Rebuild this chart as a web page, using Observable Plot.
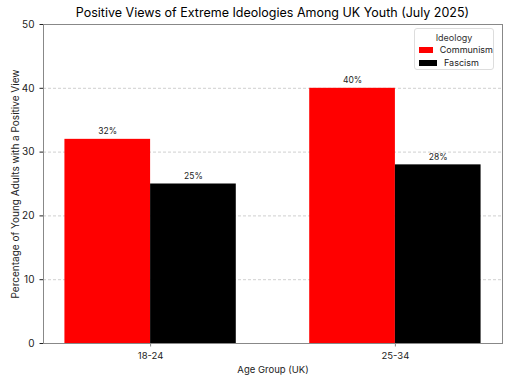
<!DOCTYPE html>
<html>
<head>
<meta charset="utf-8">
<script src="https://cdn.jsdelivr.net/npm/d3@7"></script>
<script src="https://cdn.jsdelivr.net/npm/@observablehq/plot@0.6"></script>
<style>
  html, body { margin: 0; padding: 0; background: #fff; }
  #wrap { position: relative; width: 512px; height: 384px; font-family: "Inter", "Lato", sans-serif; }
  #title { position: absolute; top: 5px; left: 43px; width: 459px; text-align: center; font-size: 12.5px; color: #000; }
  #legend { position: absolute; left: 414px; top: 28px; width: 80px; height: 42px; border: 1px solid #ddd; border-radius: 3px; background: #fff; font-size: 9px; color: #222; box-sizing: border-box; }
  #legend .t { text-align: center; margin-top: 3px; color: #333; }
  #legend .row { display: flex; align-items: center; height: 13px; margin-left: 4px; }
  #legend .sw { width: 18px; height: 6px; margin-right: 7px; }
</style>
</head>
<body>
<div id="wrap">
  <div id="chart"></div>
  <div id="title"></div>
  <div id="legend"></div>
</div>
<script>
const title = "Positive Views of Extreme Ideologies Among UK Youth (July 2025)";
const ageGroups = ["18-24", "25-34"];
const ideologies = ["Communism", "Fascism"];
const communism = [32, 40];
const fascism = [25, 28];
const colors = ["#ff0000", "#000000"];
const yTicks = [0, 10, 20, 30, 40, 50];
const yLabel = "Percentage of Young Adults with a Positive View";
const xLabel = "Age Group (UK)";
const legendTitle = "Ideology";

const barWidth = 0.35;
const series = [communism, fascism];
const rows = [];
ageGroups.forEach((g, i) => {
  ideologies.forEach((ide, k) => {
    const x1 = i + (k - 1) * barWidth;
    rows.push({group: g, ideology: ide, value: series[k][i], x1, x2: x1 + barWidth, xc: x1 + barWidth / 2});
  });
});

const font = "Inter, Lato, sans-serif";
const chart = Plot.plot({
  width: 512,
  height: 384,
  marginTop: 24,
  marginLeft: 43,
  marginRight: 10,
  marginBottom: 41,
  style: {fontFamily: font, fontSize: "10px", color: "#222", background: "#fff"},
  x: {domain: [-0.4375, 1.4375]},
  y: {domain: [0, 50]},
  color: {domain: ideologies, range: colors},
  marks: [
    Plot.gridY(yTicks.slice(1, -1), {stroke: "#bbb", strokeOpacity: 1, strokeDasharray: "3,2", strokeWidth: 0.7}),
    Plot.rectY(rows, {x1: "x1", x2: "x2", y1: 0, y2: "value", fill: "ideology"}),
    Plot.text(rows, {x: "xc", y: "value", text: d => d.value + "%", dy: -8, fontSize: 8.5, fill: "#222"}),
    Plot.frame({stroke: "#888", strokeWidth: 1}),
    Plot.axisX({ticks: [0, 1], tickFormat: d => ageGroups[d], tickSize: 3.5, stroke: "#888", fontSize: 9.5, fontVariant: "normal", label: xLabel, labelAnchor: "center", labelArrow: "none", labelOffset: 29}),
    Plot.axisY({ticks: yTicks, tickSize: 3.5, fontSize: 10, fontVariant: "normal", label: yLabel, labelAnchor: "center", labelArrow: "none", labelOffset: 32})
  ]
});
document.getElementById("chart").appendChild(chart);
document.getElementById("title").textContent = title;
const leg = document.getElementById("legend");
const lt = document.createElement("div"); lt.className = "t"; lt.textContent = legendTitle; leg.appendChild(lt);
ideologies.forEach((ide, k) => {
  const r = document.createElement("div"); r.className = "row";
  const s = document.createElement("div"); s.className = "sw"; s.style.background = colors[k];
  const l = document.createElement("span"); l.textContent = ide;
  r.appendChild(s); r.appendChild(l); leg.appendChild(r);
});
</script>
</body>
</html>
